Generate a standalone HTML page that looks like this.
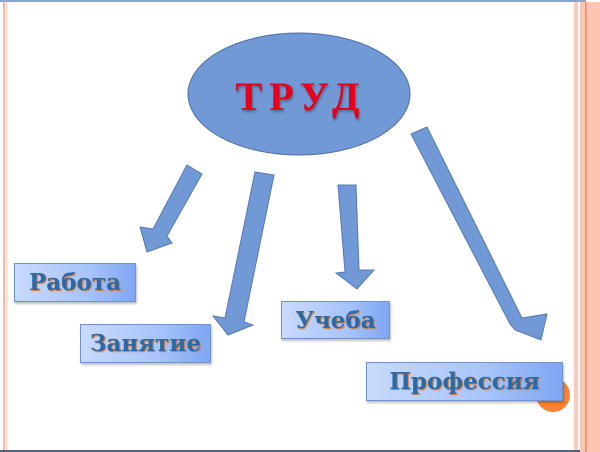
<!DOCTYPE html>
<html><head><meta charset="utf-8"><style>
body{margin:0;width:600px;height:452px;overflow:hidden;background:#fff;position:relative}
.b{position:absolute;box-sizing:border-box;border:1px solid #6f94cc;background:linear-gradient(90deg,#c8dafd 0%,#a8c4fb 60%,#7fa6f3 100%);box-shadow:1px 2px 2px rgba(0,0,0,.25);text-align:center;white-space:nowrap}
.b span{font-family:"DejaVu Serif","Liberation Serif",serif;font-weight:bold;font-size:23px;color:#2b6aa6;text-shadow:1px 1px 1px #d8782c;line-height:37px}
</style></head><body>
<svg width="600" height="452" style="position:absolute;left:0;top:0">
<rect x="0" y="0" width="586" height="2" fill="#8aa6d0"/>
<rect x="3" y="2" width="2" height="450" fill="#f5b8a6"/>
<rect x="6" y="2" width="1" height="450" fill="#fbd3c6"/>
<rect x="574" y="2" width="4" height="450" fill="#fbcbbb"/>
<rect x="580" y="2" width="20" height="450" fill="#fdc5b2"/>
<rect x="585" y="2" width="1.5" height="450" fill="#f28a55"/>
<rect x="0" y="450" width="580" height="2" fill="#4a6488"/>
<ellipse cx="299" cy="94" rx="111" ry="61" fill="#7099d5" stroke="#4d6fa6" stroke-width="1"/>
<text x="301" y="110" text-anchor="middle" font-family="Liberation Serif,serif" font-weight="bold" font-size="40" fill="#e8001a" letter-spacing="7" style="text-shadow:1px 2px 2px rgba(0,0,0,.3)">ТРУД</text>
<g fill="#7099d5" stroke="#5478b6" stroke-width="1">
<polygon points="187,165 202,174 167,236 172,243 147,252 140,227 153,229"/>
<polygon points="255,172 274,175 244,322 253,325 228,335 213,316 225,318"/>
<polygon points="338,185 356,185 359,270 374,270 357,289 336,273 345,272"/>
<polygon points="411,134 427,127 522,318 547,314 541,340 515,330 510,324"/>
</g>
<circle cx="553" cy="395" r="17" fill="#f58434"/>
</svg>
<div class="b" style="left:14px;top:263px;width:122px;height:39px"><span>Работа</span></div>
<div class="b" style="left:80px;top:324px;width:131px;height:39px"><span>Занятие</span></div>
<div class="b" style="left:281px;top:301px;width:109px;height:38px"><span>Учеба</span></div>
<div class="b" style="left:366px;top:362px;width:197px;height:39px"><span>Профессия</span></div>
</body></html>
